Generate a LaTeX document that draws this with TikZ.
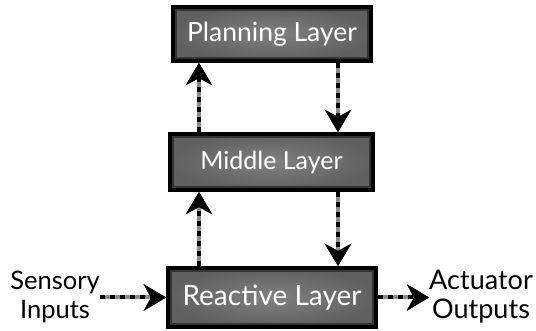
\documentclass[tikz,border=0pt]{standalone}
\usepackage{fontspec}
\setmainfont{Lato}
\usetikzlibrary{arrows.meta}
\definecolor{boxin}{RGB}{128,128,128}
\definecolor{boxout}{RGB}{96,96,96}
\definecolor{rim}{RGB}{52,52,52}
\definecolor{stripe}{RGB}{140,140,140}
\begin{document}
\begin{tikzpicture}[x=1pt,y=-1pt]
\useasboundingbox (0,0) rectangle (536,331);
\tikzset{
  layer/.style={draw=black, line width=4pt, inner color=boxin, outer color=boxout,
    text=white, inner sep=0pt,
    path picture={\draw[line width=8pt, rim] (path picture bounding box.north west) rectangle (path picture bounding box.south east);}},
  tip/.style={-{Stealth[length=22pt,width=26pt,inset=7pt,color=black]}},
  conn/.style={line width=4pt, draw=stripe, tip,
    postaction={draw=black, tip, dash pattern=on 5pt off 5pt}},
  lbl/.style={align=center, inner sep=0pt}
}
\node[layer, minimum width=198pt, minimum height=54pt, font=\fontsize{26.5}{30}\selectfont] (p) at (272,34) {Planning Layer};
\node[layer, minimum width=203pt, minimum height=56pt, font=\fontsize{25}{30}\selectfont] (m) at (271.5,162) {Middle Layer};
\node[layer, minimum width=208pt, minimum height=59pt, font=\fontsize{28}{32}\selectfont] (r) at (272,297.5) {Reactive Layer};
\node[lbl, font=\fontsize{25.5}{29}\selectfont] (s) at (55,297) {Sensory\\Inputs};
\node[lbl, font=\fontsize{27}{29}\selectfont] (a) at (481,297) {Actuator\\Outputs};
\coordinate (xl) at (199,0);
\coordinate (xr) at (338,0);
\draw[conn] (m.north -| xl) -- (p.south -| xl);
\draw[conn] (p.south -| xr) -- (m.north -| xr);
\draw[conn] (r.north -| xl) -- (m.south -| xl);
\draw[conn] (m.south -| xr) -- (r.north -| xr);
\draw[conn] (r.west -| s.east) -- (r.west);
\draw[conn] (r.east) -- (r.east -| a.west);
\end{tikzpicture}
\end{document}
